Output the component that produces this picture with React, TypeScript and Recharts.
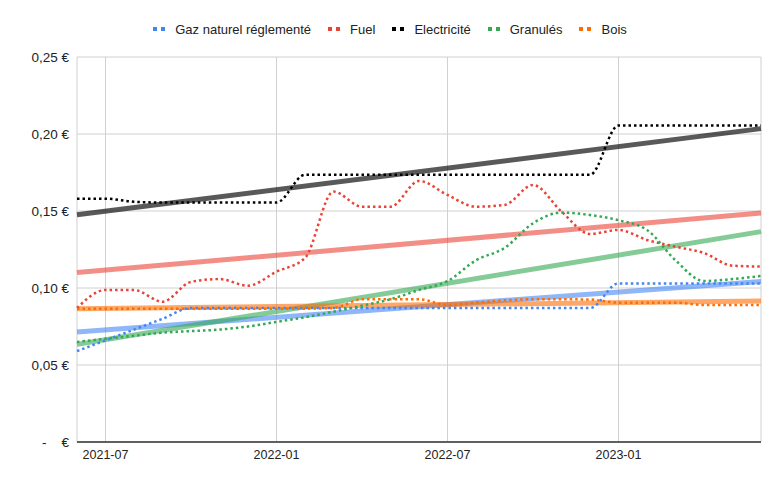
import { LineChart, Line, XAxis, YAxis, CartesianGrid } from 'recharts';

const months = [
  '2021-06', '2021-07', '2021-08', '2021-09', '2021-10', '2021-11', '2021-12',
  '2022-01', '2022-02', '2022-03', '2022-04', '2022-05', '2022-06', '2022-07',
  '2022-08', '2022-09', '2022-10', '2022-11', '2022-12', '2023-01', '2023-02',
  '2023-03', '2023-04', '2023-05', '2023-06',
];

const gaz = [
  0.059, 0.066, 0.073, 0.08, 0.087, 0.087, 0.087, 0.087, 0.087, 0.087, 0.087, 0.087, 0.087,
  0.087, 0.087, 0.087, 0.087, 0.087, 0.087, 0.103, 0.103, 0.103, 0.103, 0.103, 0.103,
];
const fuel = [
  0.087, 0.0987, 0.0987, 0.0911, 0.104, 0.1058, 0.1015, 0.1106, 0.1195, 0.1626, 0.1528, 0.1528,
  0.1695, 0.1604, 0.1528, 0.1539, 0.1669, 0.1496, 0.1351, 0.1377, 0.1312, 0.1268, 0.1227, 0.1145,
  0.1139,
];
const elec = [
  0.158, 0.158, 0.156, 0.1555, 0.1555, 0.1555, 0.1555, 0.1555, 0.1735, 0.1735, 0.1735, 0.1735,
  0.1735, 0.1735, 0.1735, 0.1735, 0.1735, 0.1735, 0.1735, 0.2055, 0.2055, 0.2055, 0.2055, 0.2055,
  0.2055,
];
const granules = [
  0.065, 0.067, 0.069, 0.071, 0.072, 0.073, 0.075, 0.078, 0.081, 0.0846, 0.0885, 0.0927, 0.0987,
  0.1045, 0.118, 0.126, 0.142, 0.149, 0.1474, 0.144, 0.1377, 0.118, 0.1045, 0.1058, 0.1078,
];
const bois = [
  0.0866, 0.0866, 0.0866, 0.0866, 0.0866, 0.0866, 0.0866, 0.0866, 0.0866, 0.087, 0.0927, 0.0927,
  0.0927, 0.089, 0.0905, 0.092, 0.0927, 0.0927, 0.0925, 0.0905, 0.0905, 0.0905, 0.089, 0.089,
  0.089,
];

// trendline end points (first month, last month)
const trendStart = { gaz: 0.0714, fuel: 0.11, elec: 0.1476, granules: 0.0634, bois: 0.0866 };
const trendEnd = { gaz: 0.1042, fuel: 0.1487, elec: 0.2035, granules: 0.1366, bois: 0.0915 };

const yTicks = [0, 0.05, 0.1, 0.15, 0.2, 0.25];
const xTicks = [1, 7, 13, 19];

const series = [
  { key: 'gaz', name: 'Gaz naturel réglementé', color: '#4285f4' },
  { key: 'fuel', name: 'Fuel', color: '#ea4335' },
  { key: 'elec', name: 'Electricité', color: '#000000' },
  { key: 'granules', name: 'Granulés', color: '#34a853' },
  { key: 'bois', name: 'Bois', color: '#ff6d01' },
] as const;

const last = months.length - 1;
const data = months.map((m, i) => ({
  idx: i,
  month: m,
  gaz: gaz[i],
  fuel: fuel[i],
  elec: elec[i],
  granules: granules[i],
  bois: bois[i],
  t_gaz: i === 0 ? trendStart.gaz : i === last ? trendEnd.gaz : null,
  t_fuel: i === 0 ? trendStart.fuel : i === last ? trendEnd.fuel : null,
  t_elec: i === 0 ? trendStart.elec : i === last ? trendEnd.elec : null,
  t_granules: i === 0 ? trendStart.granules : i === last ? trendEnd.granules : null,
  t_bois: i === 0 ? trendStart.bois : i === last ? trendEnd.bois : null,
}));

const FONT = '"Liberation Sans", Arial, sans-serif';

const fmtEuro = (v: number) =>
  v === 0 ? '-\u00a0\u00a0\u00a0\u00a0€' : `${v.toFixed(2).replace('.', ',')}\u00a0€`;

function ChartLegend() {
  return (
    <div
      style={{
        position: 'absolute',
        top: 20,
        left: 0,
        width: 780,
        height: 18,
        display: 'flex',
        justifyContent: 'center',
        alignItems: 'center',
        fontSize: 13,
        color: '#222',
        fontFamily: FONT,
      }}
    >
      {series.map((s, i) => (
        <div
          key={s.key}
          style={{ display: 'flex', alignItems: 'center', marginLeft: i === 0 ? 0 : 17 }}
        >
          <span style={{ width: 4, height: 4, background: s.color, display: 'inline-block' }} />
          <span
            style={{ width: 4, height: 4, background: s.color, display: 'inline-block', marginLeft: 4 }}
          />
          <span style={{ marginLeft: 10 }}>{s.name}</span>
        </div>
      ))}
    </div>
  );
}

export default function App() {
  return (
    <div style={{ position: 'relative', width: 780, height: 484, background: '#fff' }}>
      <style>{'body{margin:0}'}</style>
      <ChartLegend />
      <LineChart
        width={780}
        height={484}
        data={data}
        margin={{ top: 57, right: 19, bottom: 12, left: 0 }}
      >
        <CartesianGrid stroke="#d0d0d0" strokeWidth={1} />
        <XAxis
          dataKey="idx"
          type="number"
          domain={[0, last]}
          ticks={xTicks}
          tickFormatter={(i: number) => months[i]}
          height={30}
          tickLine={false}
          axisLine={{ stroke: '#333', strokeWidth: 1.5 }}
          tick={{ fontSize: 12.5, fill: '#222', fontFamily: FONT }}
        />
        <YAxis
          domain={[0, 0.25]}
          ticks={yTicks}
          width={77}
          tickFormatter={fmtEuro}
          tickLine={false}
          axisLine={false}
          tick={{ fontSize: 13.5, fill: '#222', fontFamily: FONT }}
        />
        {series.map((s) => (
          <Line
            key={`t_${s.key}`}
            dataKey={`t_${s.key}`}
            type="linear"
            stroke={s.color}
            strokeOpacity={s.key === 'elec' ? 0.65 : 0.6}
            strokeWidth={5}
            dot={false}
            connectNulls
            isAnimationActive={false}
          />
        ))}
        {series.map((s) => (
          <Line
            key={s.key}
            dataKey={s.key}
            name={s.name}
            type="monotone"
            stroke={s.color}
            strokeWidth={2.5}
            strokeDasharray="2.5 3"
            dot={false}
            isAnimationActive={false}
          />
        ))}
      </LineChart>
    </div>
  );
}
